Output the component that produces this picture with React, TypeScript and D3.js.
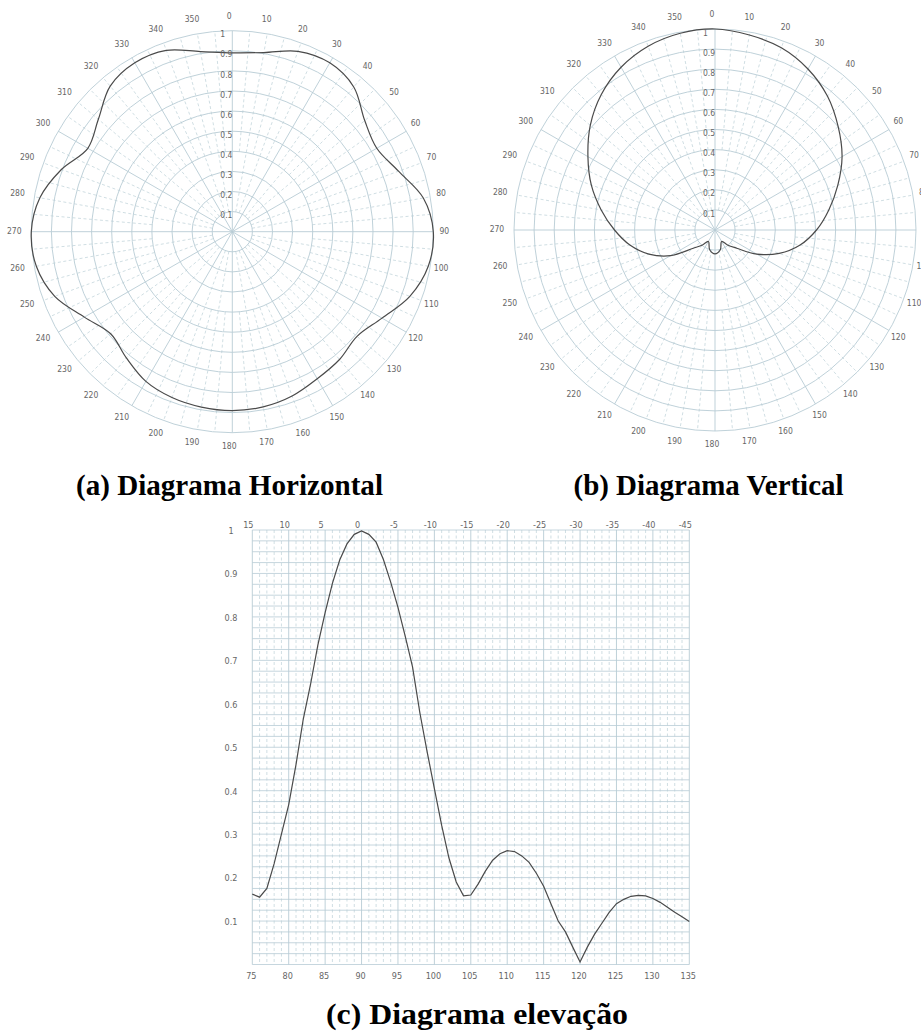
import React from 'react';
import * as d3 from 'd3';

// ---- Data -------------------------------------------------------------

// Horizontal radiation pattern (normalised field vs azimuth, degrees)
const horizontalAngles = [0, 10, 20, 30, 40, 50, 60, 70, 80, 90, 100, 110, 120, 130, 140, 150, 160, 170,
  180, 190, 200, 210, 220, 230, 240, 250, 260, 270, 280, 290, 300, 310, 320, 330, 340, 350];
const horizontalGain = [0.89, 0.905, 0.955, 0.97, 0.94, 0.86, 0.83, 0.88, 0.965, 1.0, 0.99, 0.94, 0.86, 0.81,
  0.83, 0.845, 0.87, 0.885, 0.89, 0.886, 0.878, 0.86, 0.82, 0.79, 0.85, 0.94, 0.99, 1.0, 0.972, 0.905,
  0.83, 0.87, 0.945, 0.97, 0.96, 0.91];

// Vertical radiation pattern (normalised field vs angle, degrees)
const verticalAngles = [0, 10, 20, 30, 40, 50, 60, 70, 80, 90, 100, 110, 120, 130, 140, 150, 165, 180,
  195, 210, 220, 230, 240, 250, 260, 270, 280, 290, 300, 310, 320, 330, 340, 350];
const verticalGain = [1.0, 0.985, 0.965, 0.925, 0.87, 0.8, 0.73, 0.65, 0.575, 0.505, 0.43, 0.34, 0.24, 0.141,
  0.097, 0.066, 0.102, 0.119, 0.102, 0.066, 0.097, 0.141, 0.255, 0.35, 0.43, 0.5, 0.575, 0.655, 0.73, 0.81,
  0.88, 0.935, 0.973, 0.994];

// Elevation diagram (normalised field vs elevation angle, degrees)
const elevationAngles = [75, 76, 77, 78, 79, 80, 81, 82, 83, 84, 85, 86, 87, 88, 89, 90, 91, 92, 93, 94, 95,
  96, 97, 98, 99, 100, 101, 102, 103, 104, 105, 106, 107, 108, 109, 110, 111, 112, 113, 114, 115, 116, 117,
  118, 119, 120, 121, 122, 123, 124, 125, 126, 127, 128, 129, 130, 131, 132, 133, 134, 135];
const elevationGain = [0.162, 0.155, 0.175, 0.232, 0.3, 0.368, 0.46, 0.565, 0.645, 0.735, 0.81, 0.877, 0.931,
  0.968, 0.99, 0.998, 0.99, 0.972, 0.932, 0.88, 0.822, 0.755, 0.685, 0.58, 0.49, 0.405, 0.32, 0.245, 0.19,
  0.158, 0.16, 0.185, 0.215, 0.24, 0.255, 0.262, 0.26, 0.25, 0.235, 0.21, 0.18, 0.14, 0.1, 0.075, 0.04,
  0.006, 0.04, 0.07, 0.095, 0.12, 0.14, 0.15, 0.157, 0.159, 0.158, 0.152, 0.143, 0.132, 0.12, 0.11, 0.099];

// Tick labels
const angleTicks = [0, 10, 20, 30, 40, 50, 60, 70, 80, 90, 100, 110, 120, 130, 140, 150, 160, 170,
  180, 190, 200, 210, 220, 230, 240, 250, 260, 270, 280, 290, 300, 310, 320, 330, 340, 350];
const ringTicks = [0.1, 0.2, 0.3, 0.4, 0.5, 0.6, 0.7, 0.8, 0.9, 1];
const elevBottomTicks = [75, 80, 85, 90, 95, 100, 105, 110, 115, 120, 125, 130, 135];
const elevTopTicks = ['15', '10', '5', '0', '-5', '-10', '-15', '-20', '-25', '-30', '-35', '-40', '-45'];
const elevYTicks = [0.1, 0.2, 0.3, 0.4, 0.5, 0.6, 0.7, 0.8, 0.9, 1];

// ---- Styles -----------------------------------------------------------

const W = 921;
const H = 1034;
const FONT_TICK = "'Liberation Sans Narrow', 'DejaVu Sans Condensed', 'Roboto', sans-serif";
const FONT_CAPTION = "'Liberation Serif', 'Times New Roman', serif";
const GRID = '#b8ccd5';
const GRID_DASH = '#c4d5dc';
const INK = '#4a4a4a';
const LABEL = '#666';

const rad = (deg: number) => (deg * Math.PI) / 180;

function Caption({ x, y, width, children }: { x: number; y: number; width: number; children: string }) {
  return (
    <text
      x={x}
      y={y}
      textAnchor="middle"
      fontSize={28.5}
      fontWeight="bold"
      fontFamily={FONT_CAPTION}
      fill="#000"
      textLength={width}
      lengthAdjust="spacingAndGlyphs"
    >
      {children}
    </text>
  );
}

type PolarProps = {
  cx: number;
  cy: number;
  R: number;
  angles: number[];
  gains: number[];
  caption: string;
  capX: number;
  capY: number;
  capW: number;
};

function PolarChart({ cx, cy, R, angles, gains, caption, capX, capY, capW }: PolarProps) {
  const r = d3.scaleLinear().domain([0, 1]).range([0, R]);
  const radial = (deg: number, v0: number, v1: number) => {
    const s = Math.sin(rad(deg));
    const c = Math.cos(rad(deg));
    return { x1: cx + r(v0) * s, y1: cy - r(v0) * c, x2: cx + r(v1) * s, y2: cy - r(v1) * c };
  };
  const spokes5 = d3.range(0, 360, 5);
  const pattern = d3
    .lineRadial<[number, number]>()
    .angle((d) => rad(d[0]))
    .radius((d) => r(d[1]))
    .curve(d3.curveCatmullRomClosed.alpha(0.5));
  const pathD = pattern(angles.map((a, i) => [a, gains[i]] as [number, number])) || '';
  const labelR = R * 1.07;

  return (
    <g>
      {/* dashed spokes: every 5 degrees outside, every 10 degrees further in */}
      {spokes5
        .filter((a) => a % 30 !== 0)
        .map((a) => {
          const start = a % 10 === 0 ? 0.1 : 0.4;
          const l = radial(a, start, 1);
          return (
            <line key={`d${a}`} {...l} stroke={GRID_DASH} strokeWidth={0.8} strokeDasharray="3,2.5" />
          );
        })}
      {/* solid spokes every 30 degrees */}
      {spokes5
        .filter((a) => a % 30 === 0)
        .map((a) => (
          <line key={`s${a}`} {...radial(a, 0, 1)} stroke={GRID} strokeWidth={0.9} />
        ))}
      {ringTicks.map((v) => (
        <circle key={`c${v}`} cx={cx} cy={cy} r={r(v)} fill="none" stroke={GRID} strokeWidth={0.9} />
      ))}
      <path d={pathD} transform={`translate(${cx},${cy})`} fill="none" stroke={INK} strokeWidth={1.2} />
      {ringTicks.map((v) => (
        <text
          key={`rl${v}`}
          x={cx - 12}
          y={cy - r(v) + 3.7}
          dy="0.35em"
          fontSize={8.5}
          fontFamily={FONT_TICK}
          fill={LABEL}
        >
          {String(v)}
        </text>
      ))}
      {angleTicks.map((a) => (
        <text
          key={`al${a}`}
          x={cx - 3 + labelR * Math.sin(rad(a))}
          y={cy - 1 - labelR * Math.cos(rad(a))}
          dy="0.35em"
          textAnchor="middle"
          fontSize={8.5}
          fontFamily={FONT_TICK}
          fill={LABEL}
        >
          {a}
        </text>
      ))}
      <Caption x={capX} y={capY} width={capW}>
        {caption}
      </Caption>
    </g>
  );
}

function ElevationChart() {
  const x = d3.scaleLinear().domain([75, 135]).range([252.3, 689.3]);
  const y = d3.scaleLinear().domain([0, 1]).range([964.5, 530]);
  const hLines = d3.range(0, 41).map((i) => i * 0.025);
  const vLines = d3.range(75, 136);
  const line = d3
    .line<number>()
    .x((_, i) => x(elevationAngles[i]))
    .y((d) => y(d))
    .curve(d3.curveLinear);
  const pathD = line(elevationGain) || '';

  return (
    <g>
      {vLines
        .filter((v) => v % 5 !== 0)
        .map((v) => (
          <line
            key={`vd${v}`}
            x1={x(v)}
            x2={x(v)}
            y1={y(1)}
            y2={y(0)}
            stroke={GRID_DASH}
            strokeWidth={0.8}
            strokeDasharray="3,2.5"
          />
        ))}
      {hLines.map((v) => (
        <line key={`h${v}`} x1={x(75)} x2={x(135)} y1={y(v)} y2={y(v)} stroke={GRID} strokeWidth={0.8} />
      ))}
      {vLines
        .filter((v) => v % 5 === 0)
        .map((v) => (
          <line key={`vs${v}`} x1={x(v)} x2={x(v)} y1={y(1)} y2={y(0)} stroke={GRID} strokeWidth={0.9} />
        ))}
      <path d={pathD} fill="none" stroke={INK} strokeWidth={1.2} />
      {elevBottomTicks.map((v) => (
        <text
          key={`b${v}`}
          x={x(v) - 1}
          y={976}
          dy="0.35em"
          textAnchor="middle"
          fontSize={9}
          fontFamily={FONT_TICK}
          fill={LABEL}
        >
          {v}
        </text>
      ))}
      {elevTopTicks.map((t, i) => (
        <text
          key={`t${t}`}
          x={x(elevBottomTicks[i]) - 4}
          y={525}
          dy="0.35em"
          textAnchor="middle"
          fontSize={9}
          fontFamily={FONT_TICK}
          fill={LABEL}
        >
          {t}
        </text>
      ))}
      {elevYTicks.map((v) => (
        <text
          key={`y${v}`}
          x={231}
          y={y(v) + 0.7}
          dy="0.35em"
          textAnchor="middle"
          fontSize={9}
          fontFamily={FONT_TICK}
          fill={LABEL}
        >
          {String(v)}
        </text>
      ))}
      <Caption x={477} y={1024} width={302}>
        (c) Diagrama elevação
      </Caption>
    </g>
  );
}

export default function App() {
  return (
    <svg
      width={W}
      height={H}
      viewBox={`0 0 ${W} ${H}`}
      style={{ position: 'absolute', left: 0, top: 0, background: '#fff' }}
    >
      <rect x={0} y={0} width={W} height={H} fill="#fff" />
      <PolarChart
        cx={232.3}
        cy={231.7}
        R={201}
        angles={horizontalAngles}
        gains={horizontalGain}
        caption="(a) Diagrama Horizontal"
        capX={229.5}
        capY={495}
        capW={307}
      />
      <PolarChart
        cx={715}
        cy={230}
        R={201}
        angles={verticalAngles}
        gains={verticalGain}
        caption="(b) Diagrama Vertical"
        capX={708.5}
        capY={494.5}
        capW={270}
      />
      <ElevationChart />
    </svg>
  );
}
